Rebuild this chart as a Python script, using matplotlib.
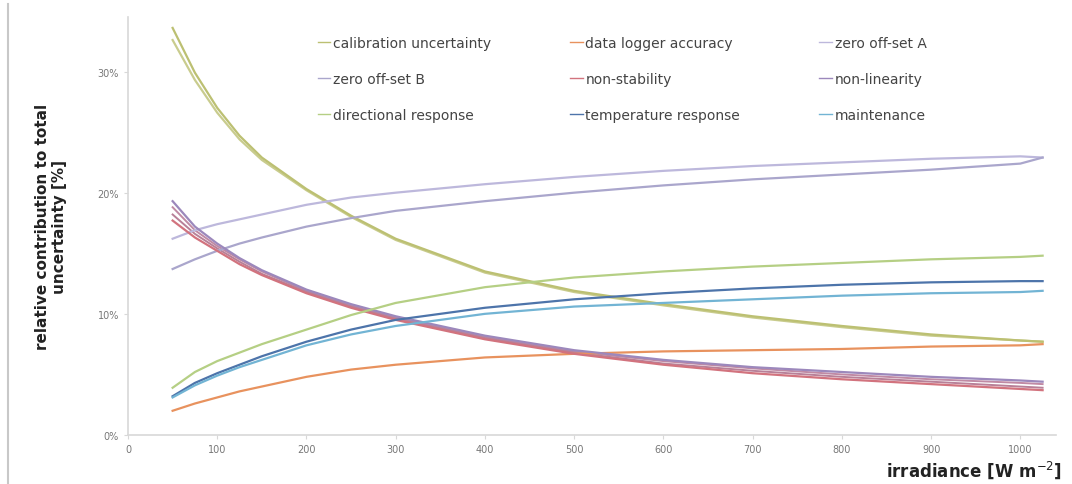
import numpy as np
import matplotlib
matplotlib.use('Agg')
import matplotlib.pyplot as plt
from matplotlib.lines import Line2D

# irradiance grid [W m-2]
irr = [50, 75, 100, 125, 150, 200, 250, 300, 400, 500, 600, 700, 800, 900, 1000, 1025]

# relative contribution to total uncertainty [%]
calibration   = [33.6, 29.9, 27.0, 24.7, 22.9, 20.3, 18.1, 16.2, 13.5, 11.9, 10.8, 9.8, 9.0, 8.3, 7.8, 7.7]
calibration_2 = [32.6, 29.3, 26.6, 24.4, 22.7, 20.2, 18.0, 16.1, 13.4, 11.8, 10.7, 9.7, 8.9, 8.2, 7.8, 7.7]
logger        = [2.0, 2.6, 3.1, 3.6, 4.0, 4.8, 5.4, 5.8, 6.4, 6.7, 6.9, 7.0, 7.1, 7.3, 7.4, 7.5]
offset_a      = [16.2, 16.9, 17.4, 17.8, 18.2, 19.0, 19.6, 20.0, 20.7, 21.3, 21.8, 22.2, 22.5, 22.8, 23.0, 22.9]
offset_b      = [13.7, 14.5, 15.2, 15.8, 16.3, 17.2, 17.9, 18.5, 19.3, 20.0, 20.6, 21.1, 21.5, 21.9, 22.4, 22.9]
non_stability = [17.7, 16.3, 15.2, 14.1, 13.2, 11.7, 10.5, 9.5, 7.9, 6.7, 5.8, 5.1, 4.6, 4.2, 3.8, 3.7]
non_linearity = [19.3, 17.2, 15.8, 14.6, 13.6, 12.0, 10.8, 9.8, 8.2, 7.0, 6.2, 5.6, 5.2, 4.8, 4.5, 4.4]
non_lin_2     = [18.8, 16.9, 15.6, 14.5, 13.5, 11.9, 10.7, 9.7, 8.1, 6.9, 6.1, 5.5, 5.0, 4.6, 4.3, 4.2]
non_stab_2    = [18.2, 16.6, 15.4, 14.3, 13.3, 11.8, 10.6, 9.6, 8.0, 6.8, 5.9, 5.3, 4.8, 4.4, 4.0, 3.9]
directional   = [3.9, 5.2, 6.1, 6.8, 7.5, 8.7, 9.9, 10.9, 12.2, 13.0, 13.5, 13.9, 14.2, 14.5, 14.7, 14.8]
temperature   = [3.2, 4.3, 5.1, 5.8, 6.5, 7.7, 8.7, 9.5, 10.5, 11.2, 11.7, 12.1, 12.4, 12.6, 12.7, 12.7]
maintenance   = [3.1, 4.1, 4.9, 5.6, 6.2, 7.4, 8.3, 9.0, 10.0, 10.6, 10.9, 11.2, 11.5, 11.7, 11.8, 11.9]

labels = ['calibration uncertainty', 'data logger accuracy', 'zero off-set A',
          'zero off-set B', 'non-stability', 'non-linearity',
          'directional response', 'temperature response', 'maintenance']
series = [calibration, logger, offset_a, offset_b, non_stability, non_linearity,
          directional, temperature, maintenance]
colors = ['#bcc072', '#e8925e', '#bdb8dc', '#aaa6cc', '#d2737e', '#9c88bc',
          '#b5cf84', '#4d74aa', '#72b4d4']

fig = plt.figure(figsize=(10.72, 4.85), dpi=100)
ax = fig.add_axes([128 / 1072, 1 - 436 / 485, 928 / 1072, 418 / 485])

x = np.array(irr)
# second set of curves (no legend entry)
ax.plot(x, np.array(calibration_2) / 100, color='#c9cc8e', lw=1.6)
ax.plot(x, np.array(non_lin_2) / 100, color='#c08aa4', lw=1.4)
ax.plot(x, np.array(non_stab_2) / 100, color='#b88098', lw=1.4)

for vals, lab, c in zip(series, labels, colors):
    ax.plot(x, np.array(vals) / 100, color=c, lw=1.6, label=lab)

ax.set_xlim(0, 1040)
ax.set_ylim(0, 0.345)
ax.set_xticks(range(0, 1001, 100))
ax.set_yticks([0, 0.1, 0.2, 0.3])
ax.set_yticklabels(['0%', '10%', '20%', '30%'])
ax.tick_params(labelsize=7, colors='#d8d8d8', labelcolor='#777777', length=3)

for s in ['top', 'right']:
    ax.spines[s].set_visible(False)
for s in ['left', 'bottom']:
    ax.spines[s].set_color('#d8d8d8')
    ax.spines[s].set_linewidth(1.2)

ax.set_ylabel('relative contribution to total\nuncertainty [%]', fontsize=11,
              fontweight='bold', color='#222222', labelpad=22, linespacing=1.2)
fig.text(1062 / 1072, 1 - 470 / 485, 'irradiance [W m$^{-2}$]', ha='right',
         va='center', fontsize=12, fontweight='bold', color='#222222')

# legend filled row by row: reorder for matplotlib's column-first layout
order = [0, 3, 6, 1, 4, 7, 2, 5, 8]
handles = [Line2D([0], [0], color=colors[i], lw=1.0) for i in order]
leg = ax.legend(handles, [labels[i] for i in order], ncol=3, frameon=False,
                fontsize=10, loc='upper left',
                bbox_to_anchor=(312 / 1072, 1 - 31 / 485),
                bbox_transform=fig.transFigure, borderaxespad=0,
                handlelength=0.9, handletextpad=0.2, columnspacing=5.7,
                labelspacing=1.6)
for t in leg.get_texts():
    t.set_color('#444444')

# frame line at the left edge
fig.add_artist(Line2D([8 / 1072, 8 / 1072], [0.0, 0.99], color='#c8c8c8',
                      lw=1.5, transform=fig.transFigure))

fig.savefig('out.png', dpi=100)
